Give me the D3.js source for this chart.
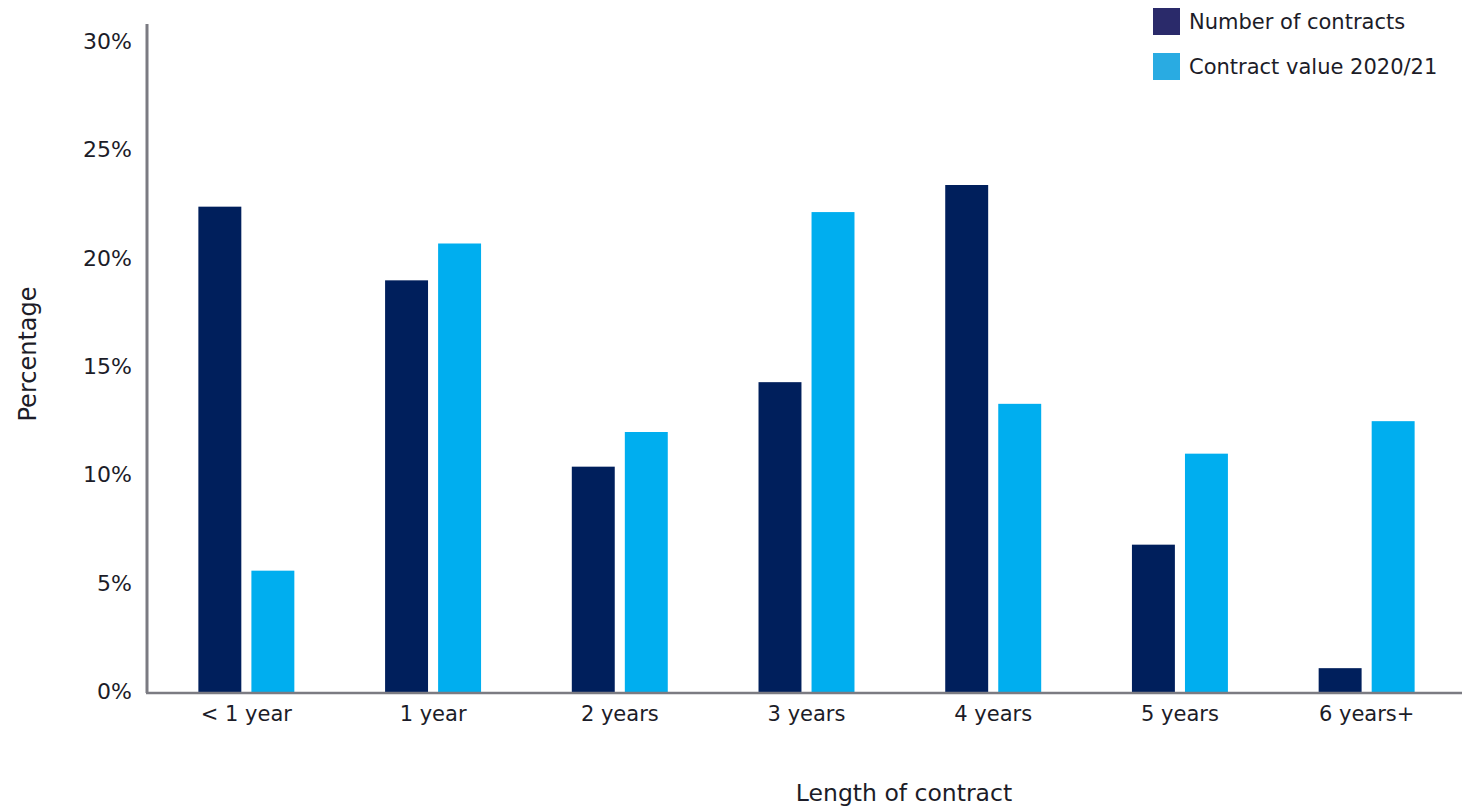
<!DOCTYPE html>
<html>
<head>
<meta charset="utf-8">
<script src="https://cdn.jsdelivr.net/npm/d3@7"></script>
<style>
  html, body { margin: 0; padding: 0; background: #ffffff; }
  svg text { font-family: "DejaVu Sans", "Noto Sans", sans-serif; fill: #1c1c28; }
</style>
</head>
<body>
<svg id="chart" width="1462" height="812"></svg>
<script>
// Share of contracts by length, and share of contract value (2020/21)
const categories = ["< 1 year", "1 year", "2 years", "3 years", "4 years", "5 years", "6 years+"];
const seriesNames = ["Number of contracts", "Contract value 2020/21"];
const numberOfContracts = [22.4, 19.0, 10.4, 14.3, 23.4, 6.8, 1.1];
const contractValue = [5.6, 20.7, 12.0, 22.15, 13.3, 11.0, 12.5];
const yTicks = [0, 5, 10, 15, 20, 25, 30];

const barColors = ["#001f5c", "#00aeef"];
const legendColors = ["#2a2a6a", "#29abe2"];

const svg = d3.select("#chart");

const x0 = d3.scaleBand().domain(categories).range([153, 1460]).paddingInner(0.486).paddingOuter(0.243);
const x1 = d3.scaleBand().domain(seriesNames).range([0, x0.bandwidth()]).paddingInner(0.19);
const y = d3.scaleLinear().domain([0, 30]).range([692, 42]);

const rows = categories.map((c, i) => ({
  cat: c,
  values: [numberOfContracts[i], contractValue[i]]
}));

// Bars
const groups = svg.append("g").selectAll("g")
  .data(rows).join("g")
  .attr("transform", d => `translate(${x0(d.cat)},0)`);

groups.selectAll("rect")
  .data(d => d.values.map((v, j) => ({ s: seriesNames[j], v, j })))
  .join("rect")
  .attr("x", d => x1(d.s))
  .attr("width", x1.bandwidth())
  .attr("y", d => y(d.v))
  .attr("height", d => y(0) - y(d.v))
  .attr("fill", d => barColors[d.j]);

// Y axis: line and percentage labels
const yAxis = svg.append("g")
  .attr("transform", "translate(147,0)")
  .call(d3.axisLeft(y).tickValues(yTicks).tickSize(0).tickPadding(15).tickFormat(d => d + "%"));
yAxis.select(".domain").remove();
yAxis.selectAll("text").attr("font-size", 22).attr("dy", "0.3em");

svg.append("line")
  .attr("x1", 147).attr("x2", 147)
  .attr("y1", 24).attr("y2", y(0) + 1)
  .attr("stroke", "#7b7b82").attr("stroke-width", 3);

// X axis baseline and category labels
svg.append("line")
  .attr("x1", 146).attr("x2", 1462)
  .attr("y1", y(0) + 1).attr("y2", y(0) + 1)
  .attr("stroke", "#7b7b82").attr("stroke-width", 2.5);

const xAxis = svg.append("g")
  .attr("transform", `translate(0,${y(0)})`)
  .call(d3.axisBottom(x0).tickSize(0).tickPadding(14));
xAxis.select(".domain").remove();
xAxis.selectAll("text").attr("font-size", 21).attr("dy", "0.71em");

// Axis titles
svg.append("text")
  .attr("transform", "translate(36,354) rotate(-90)")
  .attr("text-anchor", "middle")
  .attr("font-size", 24)
  .text("Percentage");

svg.append("text")
  .attr("x", 904).attr("y", 801)
  .attr("text-anchor", "middle")
  .attr("font-size", 23.5)
  .text("Length of contract");

// Legend
const legend = svg.append("g").selectAll("g")
  .data(seriesNames).join("g")
  .attr("transform", (d, i) => `translate(1153,${8 + i * 45})`);
legend.append("rect")
  .attr("width", 27).attr("height", 27)
  .attr("fill", (d, i) => legendColors[i]);
legend.append("text")
  .attr("x", 36).attr("y", 14).attr("dy", "0.35em")
  .attr("font-size", 21)
  .text(d => d);
</script>
</body>
</html>
